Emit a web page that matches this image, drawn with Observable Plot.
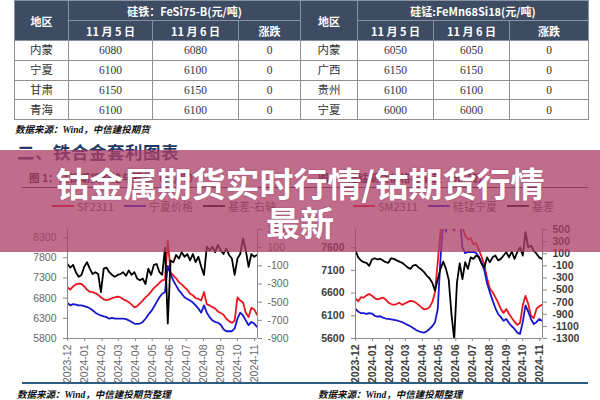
<!DOCTYPE html>
<html><head><meta charset="utf-8">
<script src="https://cdn.jsdelivr.net/npm/d3@7"></script>
<script src="https://cdn.jsdelivr.net/npm/@observablehq/plot@0.6"></script>
<style>
body{margin:0;width:600px;height:400px;position:relative;overflow:hidden;background:#fff;font-family:"Noto Sans CJK SC",sans-serif;}
#tbl{position:absolute;left:14px;top:0;width:574px;border-collapse:collapse;table-layout:fixed;}
#tbl th{background:#3e4c63;color:#fff;font:bold 11px "Noto Sans CJK SC",sans-serif;padding:0;border:1px solid #8792a4;text-align:center;line-height:18px;}
#tbl td{padding:0;border:1px solid #8f8f8f;text-align:center;font:11.5px "Liberation Serif","Noto Sans CJK SC",serif;color:#333;line-height:18px;}
#tbl tr.h{height:20px;}
#tbl tr.d{height:19.75px;}
.src{position:absolute;font:italic bold 9.5px "Liberation Serif","Noto Sans CJK SC",serif;color:#111;white-space:nowrap;}
.sec{position:absolute;left:17px;top:139px;font:bold 17.5px "Noto Sans CJK SC",sans-serif;color:#1f3b66;white-space:nowrap;letter-spacing:0.5px;}
.ct{position:absolute;top:170px;font:bold 10.5px "Noto Sans CJK SC",sans-serif;color:#222;white-space:nowrap;}
.hr{position:absolute;height:1px;background:#333;}
.lg{position:absolute;top:198px;font:11px "Noto Sans CJK SC",sans-serif;color:#595959;white-space:nowrap;display:flex;align-items:center;}
.lg span.l{display:inline-block;width:22px;height:2px;margin-right:3px;}
.lg span.t{margin-right:10px;}
.chart{position:absolute;top:220px;width:300px;height:165px;}
#c1 svg text{fill:#666;}
#c2 svg text{font-weight:bold;fill:#3c3c3c;}
.bot{position:absolute;top:382px;height:2px;background:#2c5d7e;}
#banner{position:absolute;left:0;top:150px;width:600px;height:102px;background:rgba(172,62,102,0.76);z-index:10;text-align:center;color:#fff;font:bold 34px/39px "Noto Sans CJK SC",sans-serif;padding-top:13px;box-sizing:border-box;text-shadow:0 0 2px rgba(90,20,50,0.35);}
</style></head><body>
<table id="tbl"></table>
<div class="src" style="left:15px;top:122px;">数据来源：Wind，中信建投期货</div>
<div class="sec">二、铁合金套利图表</div>
<div class="ct" style="left:29px;">图 1：硅铁期货价格与基差（元/吨）</div>
<div class="ct" style="left:318px;">图 2：硅锰期货价格与基差（元/吨）</div>
<div class="hr" style="left:22px;top:187px;width:278px;"></div>
<div class="hr" style="left:302px;top:187px;width:286px;"></div>
<div class="lg" id="lg1" style="left:52px;"></div>
<div class="lg" id="lg2" style="left:353px;"></div>
<div class="chart" id="c1" style="left:0;"></div>
<div class="chart" id="c2" style="left:300px;"></div>
<div class="bot" style="left:22px;width:566px;"></div>
<div class="src" style="left:17px;top:387px;">数据来源：Wind，中信建投期货整理</div>
<div class="src" style="left:318px;top:387px;">数据来源：Wind，中信建投期整理</div>
<div id="banner">钴金属期货实时行情/钴期货行情<br>最新</div>
<script>
// ---- table data ----
const regionsFeSi = ["内蒙","宁夏","甘肃","青海"];
const feSiNov5 = [6080,6100,6150,6100];
const feSiNov6 = [6080,6100,6150,6100];
const feSiChg = [0,0,0,0];
const regionsSiMn = ["内蒙","广西","贵州","宁夏"];
const siMnNov5 = [6050,6150,6100,6000];
const siMnNov6 = [6050,6150,6100,6000];
const siMnChg = [0,0,0,0];

// ---- chart data (5-day sampling) ----
const dates = ["2023-12-01","2023-12-06","2023-12-11","2023-12-16","2023-12-21","2023-12-26","2023-12-31",
"2024-01-05","2024-01-10","2024-01-15","2024-01-20","2024-01-25","2024-01-30",
"2024-02-04","2024-02-09","2024-02-14","2024-02-19","2024-02-24","2024-02-29",
"2024-03-05","2024-03-10","2024-03-15","2024-03-20","2024-03-25","2024-03-30",
"2024-04-04","2024-04-09","2024-04-14","2024-04-19","2024-04-24","2024-04-29",
"2024-05-04","2024-05-09","2024-05-14","2024-05-19","2024-05-24","2024-05-29",
"2024-06-03","2024-06-08","2024-06-13","2024-06-18","2024-06-23","2024-06-28",
"2024-07-03","2024-07-08","2024-07-13","2024-07-18","2024-07-23","2024-07-28",
"2024-08-02","2024-08-07","2024-08-12","2024-08-17","2024-08-22","2024-08-27",
"2024-09-01","2024-09-06","2024-09-11","2024-09-16","2024-09-21","2024-09-26",
"2024-10-01","2024-10-06","2024-10-11","2024-10-16","2024-10-21","2024-10-26","2024-10-31",
"2024-11-05"];
const monthLabels = ["2023-12","2024-01","2024-02","2024-03","2024-04","2024-05","2024-06","2024-07","2024-08","2024-09","2024-10","2024-11"];

// Chart 1: SF2311, 宁夏价格, 基差-右轴
const sf2311 = [7070,7010,7090,7140,7160,7150,7090,7010,6960,6950,
6920,6880,6820,6770,6750,6770,6800,6820,6840,6820,
6770,6740,6700,6640,6570,6600,6670,6740,6820,6880,
6960,7050,7110,7180,7240,7260,8220,7440,7360,7290,
7190,7140,7070,7010,6910,6870,6800,6780,6740,6950,
6650,6620,6580,6540,6470,6430,6390,6290,6230,6190,
6240,6820,6740,6690,6440,6330,6560,6520,6390];
const nxFeSi = [6680,6620,6650,6640,6620,6620,6600,6580,6550,6500,
6440,6400,6370,6350,6330,6290,6310,6290,6290,6290,
6290,6280,6250,6210,6170,6160,6170,6210,6290,6390,
6470,6580,6700,6820,6910,6950,7600,7400,7230,7110,
6990,6910,6820,6780,6740,6690,6620,6540,6440,6620,
6440,6330,6250,6210,6190,6140,6030,5980,5980,5980,
6050,6290,6440,6370,6250,6130,6210,6170,6090];
const basisFeSi = [-80,-120,-90,-170,-220,-200,-110,-60,-130,-190,
-170,-190,-390,-130,-120,-170,-200,-220,-200,-190,
-170,-210,-150,-200,-170,-240,-260,-240,-300,-130,
-200,-90,-80,-170,-200,100,-735,-40,-60,20,
-20,50,0,30,-40,30,-60,0,-110,-200,
110,70,110,50,130,70,30,90,20,-20,
-200,-20,30,200,70,-110,30,0,20];

// Chart 2: SM2311, 硅锰宁夏, 基差
const sm2311 = [6480,6420,6510,6500,6550,6580,6540,6490,6460,6480,
6500,6460,6390,6360,6340,6360,6390,6340,6370,6400,
6430,6420,6390,6340,6290,6240,6250,6290,6400,6620,
7290,7950,8600,9000,8800,8900,8700,8500,8300,8050,
7870,7780,7810,7680,7700,7550,7400,7220,6920,6700,
6620,6510,6390,6250,6160,6250,6140,6050,5970,5900,
5940,6330,6540,6360,6100,6050,6250,6310,6340];
const nxSiMn = [6250,6190,6160,6160,6140,6160,6150,6100,6080,6090,
6060,6040,6030,6020,6010,6000,5980,5960,5930,5900,
5870,5830,5790,5760,5740,5730,5760,5810,5870,5960,
6250,7360,8200,7950,8300,8100,7980,8400,8300,7600,
7480,7510,7500,7510,7480,7400,7270,7100,6810,6620,
6440,6270,6140,6070,5990,6030,5940,5870,5810,5730,
5700,5960,6330,6190,6030,5920,5960,6030,5990];
const basisSiMn = [150,40,-10,-40,-50,-100,5,25,5,15,
-10,-40,-50,25,15,-10,-30,-50,-85,-125,
-150,-95,-85,-125,-160,-205,-260,-305,-380,-510,
-320,-150,-30,-150,-330,-900,-1310,-380,-60,-320,
-40,-150,40,15,70,40,-70,-125,40,-40,
40,70,-10,15,70,125,40,135,15,125,
205,70,455,205,235,150,100,40,15];

// axis ticks
const c1Left = [5800,6300,6800,7300,7800,8300];
const c1Right = [-900,-700,-500,-300,-100,100,300];
const c2Left = [5600,6100,6600,7100,7600];
const c2Right = [-1300,-1100,-900,-700,-500,-300,-100,100,300,500];

// colours
const RED = "#e8161f", BLUE = "#1616cf", BLACK = "#000";

// ---- table ----
(function(){
  const t = document.getElementById("tbl");
  let h = '<colgroup><col style="width:54px"><col style="width:84px"><col style="width:86px"><col style="width:62px"><col style="width:57px"><col style="width:76px"><col style="width:76px"><col style="width:79px"></colgroup>';
  h += '<tr class="h"><th rowspan="2">地区</th><th colspan="3">硅铁：FeSi75-B(元/吨)</th><th rowspan="2">地区</th><th colspan="3">硅锰:FeMn68Si18(元/吨)</th></tr>';
  h += '<tr class="h"><th>11 月 5 日</th><th>11 月 6 日</th><th>涨跌</th><th>11 月 5 日</th><th>11 月 6 日</th><th>涨跌</th></tr>';
  for (let i = 0; i < 4; i++) {
    h += `<tr class="d"><td>${regionsFeSi[i]}</td><td>${feSiNov5[i]}</td><td>${feSiNov6[i]}</td><td>${feSiChg[i]}</td><td>${regionsSiMn[i]}</td><td>${siMnNov5[i]}</td><td>${siMnNov6[i]}</td><td>${siMnChg[i]}</td></tr>`;
  }
  t.innerHTML = h;
})();

// ---- legends ----
function legend(id, items) {
  document.getElementById(id).innerHTML = items.map(([c, t]) =>
    `<span class="l" style="background:${c}"></span><span class="t">${t}</span>`).join("");
}
legend("lg1", [[RED, "SF2311"], [BLUE, "宁夏价格"], [BLACK, "基差-右轴"]]);
legend("lg2", [[RED, "SM2311"], [BLUE, "硅锰宁夏"], [BLACK, "基差"]]);

// ---- charts ----
const monthDates = monthLabels.map(m => new Date(m + "-01T00:00:00Z"));
const xDom = [new Date("2023-12-01T00:00:00Z"), new Date("2024-11-06T00:00:00Z")];

function chart(fut, spot, basis, lDom, rDom, lTicks, rTicks, mL, mR) {
  const data = dates.map((d, i) => ({date: new Date(d + "T00:00:00Z"), fut: fut[i], spot: spot[i], basis: basis[i]}));
  const r2l = d3.scaleLinear(rDom, lDom);
  const ax = "#8a8a8a";
  return Plot.plot({
    width: 300, height: 165,
    marginLeft: mL, marginRight: mR, marginTop: 9, marginBottom: 47,
    style: {fontFamily: "'Liberation Sans', Arial, sans-serif", fontSize: "10.5px", background: "transparent", overflow: "visible"},
    x: {type: "utc", domain: xDom},
    y: {domain: lDom},
    marks: [
      Plot.line(data, {x: "date", y: "fut", stroke: RED, strokeWidth: 1.8, clip: true}),
      Plot.line(data, {x: "date", y: "spot", stroke: BLUE, strokeWidth: 1.8, clip: true}),
      Plot.line(data, {x: "date", y: d => r2l(d.basis), stroke: BLACK, strokeWidth: 1.8, clip: true}),
      Plot.ruleX([xDom[0]], {stroke: ax}),
      Plot.ruleX([xDom[1]], {stroke: ax}),
      Plot.ruleY([lDom[0]], {stroke: ax}),
      Plot.axisY(lTicks, {anchor: "left", tickSize: 4, tickPadding: 7, stroke: ax, label: null, tickFormat: d => String(d)}),
      Plot.axisY(rTicks.map(r2l), {anchor: "right", tickSize: 4, tickPadding: 6, stroke: ax, label: null, tickFormat: d => String(Math.round(r2l.invert(d)))}),
      Plot.axisX(monthDates, {anchor: "bottom", tickRotate: -90, tickSize: 3, tickPadding: 3, stroke: ax, label: null, tickFormat: d => monthLabels[monthDates.findIndex(m => +m === +d)]})
    ]
  });
}
document.getElementById("c1").append(chart(sf2311, nxFeSi, basisFeSi, [5800, 8500], [-900, 300], c1Left, c1Right, 67, 43));
document.getElementById("c2").append(chart(sm2311, nxSiMn, basisSiMn, [5600, 8000], [-1300, 500], c2Left, c2Right, 55, 58));
</script>
</body></html>
